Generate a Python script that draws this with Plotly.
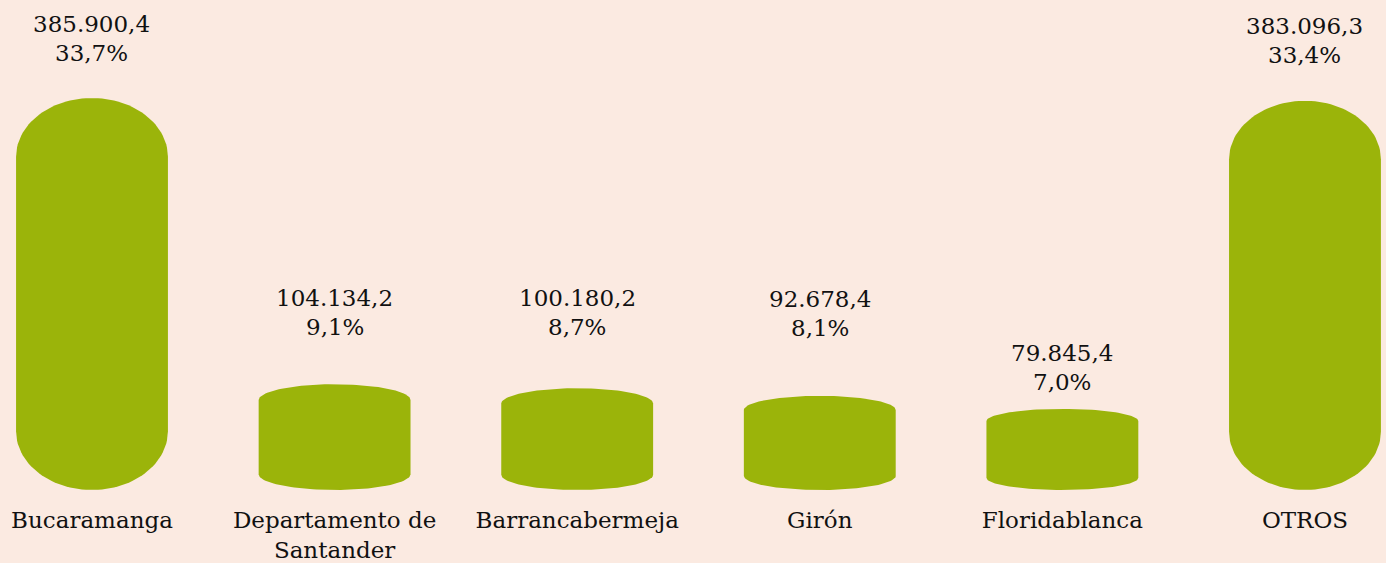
import numpy as np
import plotly.graph_objects as go

# Data
categories = ["Bucaramanga", "Departamento de<br>Santander", "Barrancabermeja",
              "Girón", "Floridablanca", "OTROS"]
values = [385900.4, 104134.2, 100180.2, 92678.4, 79845.4, 383096.3]
shares = [33.7, 9.1, 8.7, 8.1, 7.0, 33.4]

# Styling / layout
BG = "#FBEAE1"
BAR = "#9BB40A"
FONT = "DejaVu Serif"
FS = 23
HALF_W = 0.313          # half bar width, x units
CAP = 0.15              # elliptical cap height as share of bar height
label_lift = [36, 48, 52, 59, 18, 37]   # px between bar top and label baseline


def fmt_num(v, dec=1):
    s = f"{v:,.{dec}f}"
    return s.replace(",", "X").replace(".", ",").replace("X", ".")


def cylinder(xc, v):
    ry = CAP * v
    t_top = np.linspace(0, np.pi, 60)
    t_bot = np.linspace(np.pi, 2 * np.pi, 60)
    xs = np.concatenate([xc + HALF_W * np.cos(t_top), xc + HALF_W * np.cos(t_bot)])
    ys = np.concatenate([v - ry + ry * np.sin(t_top), ry + ry * np.sin(t_bot)])
    return np.append(xs, xs[0]), np.append(ys, ys[0])


fig = go.Figure()
xpos = list(range(len(categories)))
for i, v in zip(xpos, values):
    xs, ys = cylinder(i, v)
    fig.add_trace(go.Scatter(x=xs, y=ys, mode="lines", fill="toself",
                             fillcolor=BAR, line=dict(width=0, color=BAR),
                             hoverinfo="skip", showlegend=False))

for i, (v, p, lift) in enumerate(zip(values, shares, label_lift)):
    fig.add_annotation(x=i, y=v, text=fmt_num(v), showarrow=False,
                       yanchor="bottom", yshift=lift + 29 - 6,
                       font=dict(family=FONT, size=FS, color="#111"))
    fig.add_annotation(x=i, y=v, text=fmt_num(p) + "%", showarrow=False,
                       yanchor="bottom", yshift=lift - 6,
                       font=dict(family=FONT, size=FS, color="#111"))

fig.update_layout(
    width=1386, height=563,
    margin=dict(l=0, r=0, t=0, b=73),
    paper_bgcolor=BG, plot_bgcolor=BG,
    xaxis=dict(range=[-0.3792, 5.334], tickmode="array", tickvals=xpos,
               ticktext=categories, showgrid=False, zeroline=False,
               showline=False, ticks="", ticklabelstandoff=14,
               tickfont=dict(family=FONT, size=FS, color="#111")),
    yaxis=dict(range=[0, 482375], visible=False, showgrid=False,
               zeroline=False),
)

fig.write_html("out.html")
